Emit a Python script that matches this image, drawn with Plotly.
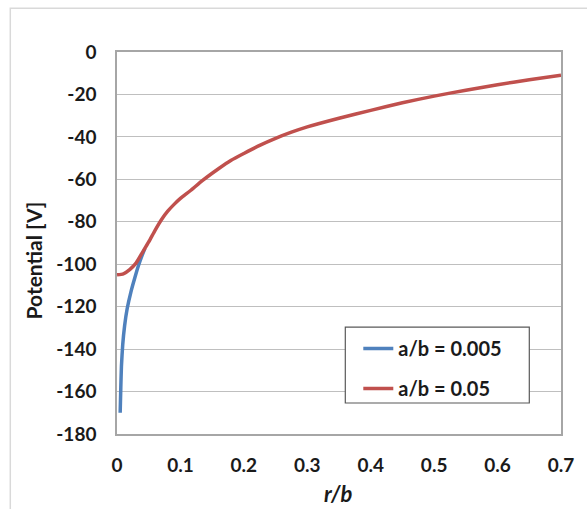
import plotly.graph_objects as go

# Data
r_small = [0.005, 0.006, 0.007, 0.009, 0.012, 0.016, 0.022, 0.028, 0.034, 0.040, 0.044]
v_small = [-170, -158, -148, -138, -129, -121, -113, -106.5, -100.5, -95.5, -92.5]

r_large = [0, 0.01, 0.02, 0.03, 0.04, 0.05, 0.06, 0.07, 0.08, 0.09, 0.10, 0.115, 0.135,
           0.16, 0.18, 0.20, 0.225, 0.25, 0.275, 0.30, 0.35, 0.40, 0.45, 0.50, 0.55,
           0.60, 0.65, 0.70]
v_large = [-105, -104.5, -102.5, -99.5, -94.5, -89.5, -84, -79, -75, -71.8, -69, -65.5, -60.5,
           -55, -51, -47.8, -44, -40.7, -37.8, -35.3, -31.2, -27.5, -23.9, -20.8, -18,
           -15.4, -13.1, -10.9]

x_ticks = [0, 0.1, 0.2, 0.3, 0.4, 0.5, 0.6, 0.7]
x_ticktext = ["0", "0.1", "0.2", "0.3", "0.4", "0.5", "0.6", "0.7"]
y_ticks = [0, -20, -40, -60, -80, -100, -120, -140, -160, -180]
y_ticktext = ["0", "-20", "-40", "-60", "-80", "-100", "-120", "-140", "-160", "-180"]

series_names = ["a/b = 0.005", "a/b = 0.05"]
colors = ["#4F81BD", "#C0504D"]

W, H = 587, 509
L, R, T, B = 116.7, 26.3, 51.7, 75
pw = W - L - R
ph = H - T - B

def px(x):
    return (x - L) / pw

def py(y):
    return (H - B - y) / ph

FONT = "Lato"
TXT = "#1a1a1a"

fig = go.Figure()
fig.add_trace(go.Scatter(x=r_small, y=v_small, mode="lines", name=series_names[0],
                         line=dict(color=colors[0], width=3.5, shape="spline", smoothing=0.5),
                         legendgroup="a"))
fig.add_trace(go.Scatter(x=r_large, y=v_large, mode="lines", name=series_names[1],
                         line=dict(color=colors[1], width=3.5, shape="spline", smoothing=0.5),
                         legendgroup="b"))

tickfont = dict(family=FONT, size=19, weight="bold", color=TXT)

fig.update_layout(
    width=W, height=H,
    margin=dict(l=L, r=R, t=T, b=B),
    paper_bgcolor="white", plot_bgcolor="white",
    font=dict(family=FONT, size=19, color=TXT),
    showlegend=True,
    legend=dict(x=px(358), y=py(329), xanchor="left", yanchor="top",
                bgcolor="rgba(0,0,0,0)", borderwidth=0,
                font=dict(family=FONT, size=20, color=TXT, weight="bold"),
                tracegroupgap=11, traceorder="grouped"),
    xaxis=dict(range=[0, 0.7], tickvals=x_ticks, ticktext=x_ticktext,
               showgrid=False, zeroline=False, showline=True, linecolor="#A6A6A6",
               linewidth=1.5, mirror=True, ticks="", ticklabelstandoff=13,
               tickfont=tickfont),
    yaxis=dict(range=[-180, 0], tickvals=y_ticks, ticktext=y_ticktext,
               showgrid=True, gridcolor="#BFBFBF",
               gridwidth=1.2, zeroline=False, showline=True, linecolor="#A6A6A6",
               linewidth=1.5, mirror=True, ticks="", ticklabelstandoff=15,
               tickfont=tickfont),
    shapes=[
        dict(type="rect", xref="paper", yref="paper",
             x0=px(345), x1=px(529), y0=py(403), y1=py(327),
             line=dict(color="#595959", width=1.2), fillcolor="white", layer="above"),
        dict(type="rect", xref="paper", yref="paper",
             x0=px(10), x1=px(640), y0=py(560), y1=py(8),
             line=dict(color="#D9D9D9", width=1.5), fillcolor="rgba(0,0,0,0)", layer="below"),
    ],
    annotations=[
        dict(text="<b>Potential [V]</b>", xref="paper", yref="paper", x=px(33), y=py(260),
             textangle=-90, showarrow=False, xanchor="center", yanchor="middle",
             font=dict(family=FONT, size=21, color=TXT)),
        dict(text="<b><i>r/b</i></b>", xref="paper", yref="paper", x=px(338), y=py(494),
             showarrow=False, xanchor="center", yanchor="middle",
             font=dict(family=FONT, size=22, color=TXT)),
    ],
)

fig.write_html("out.html")
